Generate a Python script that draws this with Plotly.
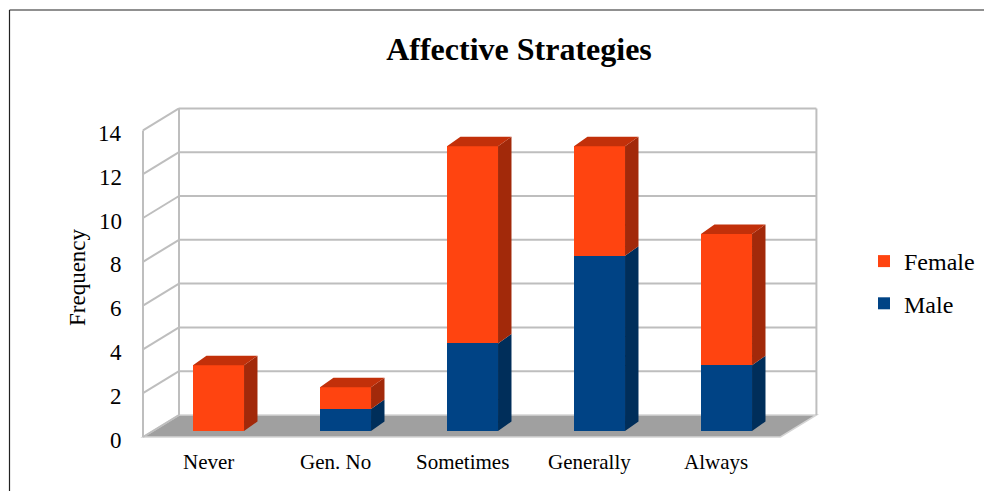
import plotly.graph_objects as go

# ---- data ----
categories = ["Never", "Gen. No", "Sometimes", "Generally", "Always"]
male = [0, 1, 4, 8, 3]
female = [3, 1, 9, 5, 6]
y_ticks = [0, 2, 4, 6, 8, 10, 12, 14]

# ---- styling ----
FONT = "Liberation Serif"
FEMALE_FRONT, FEMALE_SIDE, FEMALE_TOP = "#FF4410", "#A2290A", "#C2300A"
MALE_FRONT, MALE_SIDE = "#004385", "#002E5A"
GRID = "#BEBEBE"
FLOOR = "#A0A0A0"

W, H = 984, 491
BAR_W = 0.402          # front-face width in category units
BAR_DX, BAR_DY = 0.106, 0.434   # bar depth (oblique projection)
WALL_DX, WALL_DY = 0.2835, 1.005  # floor / wall depth
FRONT_Y = -0.274                  # front edge of floor in value units
X_LEFT = -0.5945                  # front-left corner of floor
X_RIGHT = len(categories) - 1 + 0.4245

xs = list(range(len(categories)))
hw = BAR_W / 2


def polys(rects):
    """Join polygons into one path separated by None for fill='toself'."""
    px, py = [], []
    for pts in rects:
        for (a, b) in pts + [pts[0]]:
            px.append(a)
            py.append(b)
        px.append(None)
        py.append(None)
    return px, py


fig = go.Figure()

# front faces as stacked bars
fig.add_trace(go.Bar(x=xs, y=male, name="Male", width=BAR_W,
                     marker=dict(color=MALE_FRONT, line=dict(width=0)),
                     legendgroup="m", legendrank=2))
fig.add_trace(go.Bar(x=xs, y=female, name="Female", width=BAR_W,
                     marker=dict(color=FEMALE_FRONT, line=dict(width=0)),
                     legendgroup="f", legendrank=1))

# side faces
def side(c, lo, hi):
    return [(c + hw, lo), (c + hw + BAR_DX, lo + BAR_DY),
            (c + hw + BAR_DX, hi + BAR_DY), (c + hw, hi)]

male_sides = [side(c, 0, m) for c, m in zip(xs, male) if m > 0]
female_sides = [side(c, m, m + f) for c, m, f in zip(xs, male, female) if f > 0]
tops = []
for c, m, f in zip(xs, male, female):
    t = m + f
    tops.append([(c - hw, t), (c + hw, t), (c + hw + BAR_DX, t + BAR_DY),
                 (c - hw + BAR_DX, t + BAR_DY)])

for pts, col in [(male_sides, MALE_SIDE), (female_sides, FEMALE_SIDE),
                 (tops, FEMALE_TOP)]:
    px, py = polys(pts)
    fig.add_trace(go.Scatter(x=px, y=py, mode="lines", fill="toself",
                             fillcolor=col, line=dict(width=0, color=col),
                             showlegend=False, hoverinfo="skip"))

# ---- walls, floor, gridlines ----
shapes = []
back_left = X_LEFT + WALL_DX
back_right = X_RIGHT + WALL_DX
top_v = max(y_ticks)

# floor
shapes.append(dict(type="path", layer="below",
                   path=(f"M{X_LEFT},{FRONT_Y} L{X_RIGHT},{FRONT_Y} "
                         f"L{back_right},{FRONT_Y + WALL_DY} "
                         f"L{back_left},{FRONT_Y + WALL_DY} Z"),
                   fillcolor=FLOOR, line=dict(color="#D4D4D4", width=1.5)))
# back wall gridlines and left wall diagonals
for v in y_ticks:
    fy = v + FRONT_Y
    by = fy + WALL_DY
    if v > 0:
        shapes.append(dict(type="line", layer="below", x0=back_left, x1=back_right,
                           y0=by, y1=by, line=dict(color=GRID, width=2)))
    shapes.append(dict(type="line", layer="below", x0=X_LEFT, x1=back_left,
                       y0=fy, y1=by, line=dict(color=GRID, width=2)))
# vertical edges
shapes.append(dict(type="line", layer="below", x0=X_LEFT, x1=X_LEFT,
                   y0=FRONT_Y, y1=top_v + FRONT_Y, line=dict(color=GRID, width=2)))
shapes.append(dict(type="line", layer="below", x0=back_left, x1=back_left,
                   y0=FRONT_Y + WALL_DY, y1=top_v + FRONT_Y + WALL_DY,
                   line=dict(color=GRID, width=2)))
shapes.append(dict(type="line", layer="below", x0=back_right, x1=back_right,
                   y0=FRONT_Y + WALL_DY, y1=top_v + FRONT_Y + WALL_DY,
                   line=dict(color=GRID, width=2)))

# chart frame (top and left border)
shapes.append(dict(type="line", xref="paper", yref="paper",
                   x0=9.5 / W, x1=1, y0=1 - 10 / H, y1=1 - 10 / H,
                   line=dict(color="#222222", width=1.2)))
shapes.append(dict(type="line", xref="paper", yref="paper",
                   x0=9.5 / W, x1=9.5 / W, y0=0, y1=1 - 10 / H,
                   line=dict(color="#222222", width=1.2)))

# ---- labels ----
annotations = []
for v in y_ticks:
    annotations.append(dict(x=-0.744, y=v + FRONT_Y - 0.14, text=str(v),
                            showarrow=False, xanchor="right", yanchor="middle",
                            font=dict(family=FONT, size=23, color="#000000")))
for c, name in zip(xs, categories):
    annotations.append(dict(x=c - 0.08, y=-1.42, text=name, showarrow=False,
                            xanchor="center", yanchor="middle",
                            font=dict(family=FONT, size=21, color="#000000")))
annotations.append(dict(x=77 / W, y=1 - 277 / H, xref="paper", yref="paper",
                        text="Frequency", textangle=-90, showarrow=False,
                        xanchor="center", yanchor="middle",
                        font=dict(family=FONT, size=23, color="#000000")))

fig.update_layout(
    width=W, height=H,
    margin=dict(l=0, r=0, t=0, b=0),
    paper_bgcolor="white", plot_bgcolor="white",
    barmode="stack",
    title=dict(text="<b>Affective Strategies</b>", x=519 / W, xanchor="center",
               y=1 - 49 / H, yanchor="middle",
               font=dict(family=FONT, size=32, color="#000000")),
    xaxis=dict(range=[-218.5 / 127, (W - 218.5) / 127], visible=False,
               fixedrange=True),
    yaxis=dict(range=[(431 - H) / 21.9, 431 / 21.9], visible=False,
               fixedrange=True),
    legend=dict(x=864 / W, y=1 - 239 / H, xanchor="left", yanchor="top",
                font=dict(family=FONT, size=24, color="#000000"),
                tracegroupgap=8, bgcolor="rgba(0,0,0,0)"),
    shapes=shapes,
    annotations=annotations,
    showlegend=True,
)

fig.write_html("out.html")
